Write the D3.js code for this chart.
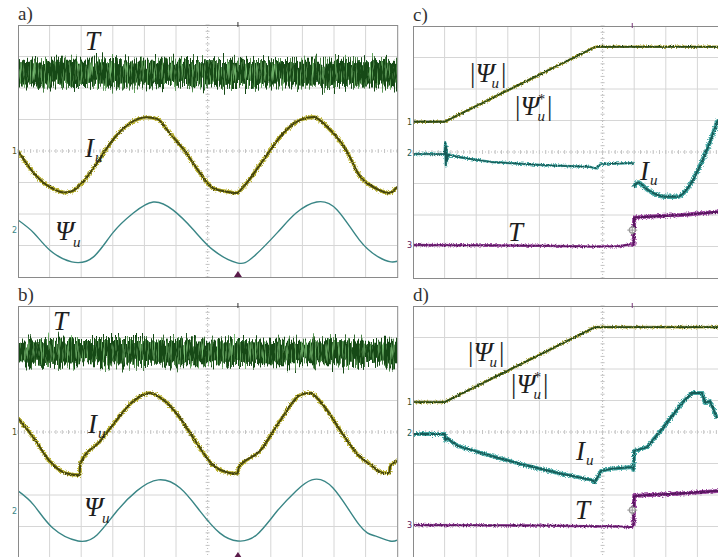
<!DOCTYPE html>
<html>
<head>
<meta charset="utf-8">
<script src="https://cdn.jsdelivr.net/npm/d3@7"></script>
<style>
  html, body { margin: 0; padding: 0; background: #fff; }
  svg { display: block; }
  text { font-family: "Liberation Serif", "DejaVu Serif", serif; }
</style>
</head>
<body>
<svg id="chart" width="718" height="557">
  <defs>
    <filter id="fBand" filterUnits="userSpaceOnUse" x="0" y="0" width="718" height="557">
      <feTurbulence type="fractalNoise" baseFrequency="0.9 0.02" numOctaves="2" seed="4" result="n1"/>
      <feDisplacementMap in="SourceGraphic" in2="n1" scale="26" xChannelSelector="B" yChannelSelector="R" result="disp"/>
      <feTurbulence type="fractalNoise" baseFrequency="0.7 0.05" numOctaves="3" seed="9" result="n2"/>
      <feColorMatrix in="n2" type="matrix" values="0 0 0 0 0.2  0 0 0 0 0.55  0 0 0 0 0.18  3 0 0 0 -1.5" result="light"/>
      <feComposite in="light" in2="disp" operator="in" result="lightIn"/>
      <feMerge><feMergeNode in="disp"/><feMergeNode in="lightIn"/></feMerge>
    </filter>
    <filter id="fRough" filterUnits="userSpaceOnUse" x="0" y="0" width="718" height="557">
      <feTurbulence type="fractalNoise" baseFrequency="0.8 0.8" numOctaves="1" seed="2" result="n"/>
      <feDisplacementMap in="SourceGraphic" in2="n" scale="5" xChannelSelector="R" yChannelSelector="G"/>
    </filter>
    <filter id="fRough2" filterUnits="userSpaceOnUse" x="0" y="0" width="718" height="557">
      <feTurbulence type="fractalNoise" baseFrequency="0.9 0.9" numOctaves="1" seed="5" result="n"/>
      <feDisplacementMap in="SourceGraphic" in2="n" scale="3" xChannelSelector="R" yChannelSelector="G"/>
    </filter>
  </defs>
</svg>
<script>
(function () {
  'use strict';

  // All traces in screen divisions: x 0..12, y -4..4 (0 = centre line)

  // panel a) – steady state
  var aT = [[-0.5, 2.85, 2.05], [0, 2.85, 2.05], [1, 2.9, 2.05], [2, 2.9, 2.03], [3, 2.92, 2.05], [4, 2.9, 2.05],
    [5, 2.9, 2.07], [6, 2.88, 2.05], [7, 2.9, 2.03], [8, 2.88, 2.05], [9, 2.9, 2.05], [10, 2.9, 2.03],
    [11, 2.88, 2.05], [12, 2.9, 2.05], [12.5, 2.9, 2.05]];
  var aIu = [[0, 0], [0.5, -0.7], [1.0, -1.14], [1.5, -1.32], [1.75, -1.26], [2.07, -0.97], [2.6, -0.23],
    [3.0, 0.35], [3.54, 0.88], [4.07, 1.07], [4.4, 1.02], [4.8, 0.57], [5.28, 0], [5.76, -0.7], [6.17, -1.18],
    [6.6, -1.29], [6.93, -1.33], [7.13, -1.14], [7.76, -0.29], [8.4, 0.57], [8.92, 0.98], [9.35, 1.08],
    [9.78, 0.77], [10.4, 0], [10.82, -0.8], [11.35, -1.2], [11.75, -1.33], [12, -1.14]];
  var aPsi = [[0, -2.19], [0.5, -2.6], [1.0, -3.14], [1.7, -3.52], [2.39, -3.36], [3.0, -2.6], [3.65, -1.97],
    [4.28, -1.62], [4.9, -1.87], [5.55, -2.5], [6.17, -3.14], [6.93, -3.55], [7.45, -3.36], [8.2, -2.6],
    [8.8, -1.97], [9.45, -1.62], [10.1, -1.87], [10.8, -2.82], [11.4, -3.36], [11.8, -3.52], [12, -3.5]];

  // panel b)
  var bT = [[-0.5, 2.9, 2.15], [0, 2.9, 2.15], [1, 2.92, 2.13], [2, 2.95, 2.15], [3, 2.95, 2.15], [4, 2.95, 2.13],
    [5, 2.92, 2.15], [6, 2.9, 2.15], [7, 2.92, 2.13], [8, 2.9, 2.15], [9, 2.9, 2.15], [10, 2.92, 2.15],
    [11, 2.9, 2.13], [12, 2.9, 2.15], [12.5, 2.9, 2.15]];
  var bIu = [[0, 0.44], [0.5, -0.19], [1.0, -0.92], [1.49, -1.3], [1.95, -1.37], [1.97, -1.0], [2.6, -0.29],
    [3.0, 0.22], [3.65, 0.98], [4.18, 1.24], [4.6, 1.02], [5.13, 0.44], [5.55, -0.19], [6.17, -1.05],
    [6.7, -1.3], [6.95, -1.32], [6.98, -1.14], [7.66, -0.6], [8.29, 0.35], [8.92, 1.17], [9.24, 1.24],
    [9.65, 0.86], [10.3, -0.1], [10.78, -0.75], [11.17, -1.05], [11.55, -1.3], [11.75, -1.3], [11.78, -1.08],
    [12, -0.92]];
  var bPsi = [[0, -1.87], [0.5, -2.32], [1.1, -3.05], [1.9, -3.46], [2.5, -3.27], [3.13, -2.51], [3.76, -1.87],
    [4.44, -1.52], [5.13, -1.78], [5.76, -2.51], [6.39, -3.21], [6.96, -3.46], [7.55, -3.27], [8.2, -2.51],
    [8.8, -1.87], [9.3, -1.52], [9.97, -1.78], [10.8, -2.95], [11.3, -3.3], [11.77, -3.46], [12, -3.43]];

  // panel c) – flux ramp
  var cPsiMag = [[0, 0.96], [1.0, 0.96], [5.78, 3.34], [9.7, 3.34]];
  var cIuA = [[0, -0.06], [1.0, -0.06], [1.02, 0.3], [1.04, -0.42], [1.06, 0.18], [1.08, -0.28], [1.12, -0.08],
    [1.42, -0.16], [2.47, -0.32], [4.05, -0.41], [5.63, -0.48], [5.79, -0.52], [5.95, -0.38], [6.99, -0.35]];
  var cIuB = [[6.99, -1.1], [7.12, -0.97], [7.44, -1.21], [7.97, -1.42], [8.39, -1.42], [8.7, -1.14],
    [9.02, -0.57], [9.34, 0.17], [9.65, 1.02]];
  var cT = [[0, -2.95], [2, -2.96], [4, -2.98], [5.5, -3.0], [6.5, -2.99], [6.9, -2.93], [6.98, -2.97],
    [7.0, -2.08], [7.5, -2.05], [8.5, -2.0], [9.65, -1.9]];

  // panel d)
  var dPsiMag = [[0, 0.95], [1.0, 0.95], [5.76, 3.33], [9.7, 3.33]];
  var dIu = [[0, -0.06], [1.0, -0.06], [1.02, -0.25], [1.1, -0.2], [1.25, -0.33], [1.42, -0.44], [2.47, -0.76],
    [3.54, -1.05], [4.59, -1.3], [5.63, -1.52], [5.76, -1.59], [5.95, -1.24], [6.27, -1.17], [6.96, -1.11],
    [6.98, -1.2], [7.0, -0.6], [7.41, -0.48], [7.91, 0.13], [8.54, 0.95], [8.83, 1.24], [9.15, 1.24],
    [9.24, 0.92], [9.4, 0.98], [9.62, 0.44]];
  var dT = [[0, -2.95], [2, -2.96], [4, -2.97], [5.5, -2.99], [6.5, -3.0], [6.9, -3.02], [6.98, -2.98],
    [7.0, -2.03], [7.5, -2.0], [8.5, -1.95], [9.65, -1.87]];

  var CW = 31.6, CH = 31.5;
  var svg = d3.select('#chart');

  function makePanel(id, x0, y0, name) {
    var x = d3.scaleLinear().domain([0, 12]).range([x0, x0 + 12 * CW]);
    var y = d3.scaleLinear().domain([-4, 4]).range([y0 + 8 * CH, y0]);
    svg.select('defs').append('clipPath').attr('id', 'clip-' + id)
      .append('rect').attr('x', x0).attr('y', y0).attr('width', 12 * CW).attr('height', 8 * CH);
    var g = svg.append('g');

    // grid
    d3.range(1, 12).forEach(function (i) {
      g.append('line').attr('x1', x(i)).attr('x2', x(i)).attr('y1', y(-4)).attr('y2', y(4))
        .attr('stroke', i === 6 ? '#bdbdbd' : '#d6d6d6').attr('stroke-width', 1)
        .attr('stroke-dasharray', i === 6 ? '1,2' : null);
    });
    d3.range(-3, 4).forEach(function (j) {
      g.append('line').attr('x1', x(0)).attr('x2', x(12)).attr('y1', y(j)).attr('y2', y(j))
        .attr('stroke', j === 0 ? '#bdbdbd' : '#d6d6d6').attr('stroke-width', 1)
        .attr('stroke-dasharray', j === 0 ? '1,2' : null);
    });
    // minor ticks on the centre lines
    d3.range(0, 12.01, 0.2).forEach(function (t) {
      g.append('line').attr('x1', x(t)).attr('x2', x(t)).attr('y1', y(0) - 2).attr('y2', y(0) + 2)
        .attr('stroke', '#c4c4c4');
    });
    d3.range(-4, 4.01, 0.2).forEach(function (t) {
      g.append('line').attr('x1', x(6) - 2).attr('x2', x(6) + 2).attr('y1', y(t)).attr('y2', y(t))
        .attr('stroke', '#c4c4c4');
    });

    var plot = g.append('g').attr('clip-path', 'url(#clip-' + id + ')');

    svg.append('rect').attr('x', x0 + 0.5).attr('y', y0 + 0.5).attr('width', 12 * CW).attr('height', 8 * CH)
      .attr('fill', 'none').attr('stroke', '#8a8a8a').attr('stroke-width', 1);

    svg.append('text').attr('x', x0).attr('y', y0 - 5).style('font-size', '19px').attr('fill', '#333')
      .text(name);

    return { x: x, y: y, plot: plot, g: svg.append('g') };
  }

  function lineOf(p, curve) {
    return d3.line().x(function (d) { return p.x(d[0]); }).y(function (d) { return p.y(d[1]); })
      .curve(curve || d3.curveLinear);
  }

  function drawBand(p, data) {
    var area = d3.area().x(function (d) { return p.x(d[0]); })
      .y0(function (d) { return p.y(d[2]); }).y1(function (d) { return p.y(d[1]); })
      .curve(d3.curveLinear);
    p.plot.append('path').attr('d', area(data)).attr('fill', '#124a16').attr('filter', 'url(#fBand)');
  }

  function drawNoisy(p, data, curve, fringe, core, wF, wC) {
    var ln = lineOf(p, curve);
    p.plot.append('path').attr('d', ln(data)).attr('fill', 'none').attr('stroke', fringe)
      .attr('stroke-width', wF).attr('stroke-linejoin', 'round').attr('filter', 'url(#fRough)');
    p.plot.append('path').attr('d', ln(data)).attr('fill', 'none').attr('stroke', core)
      .attr('stroke-width', wC).attr('stroke-linejoin', 'round').attr('filter', 'url(#fRough2)');
  }

  function drawClean(p, data, curve, color, w) {
    p.plot.append('path').attr('d', lineOf(p, curve)(data)).attr('fill', 'none')
      .attr('stroke', color).attr('stroke-width', w).attr('stroke-linejoin', 'round');
  }

  function label(p, x, y, parts) {
    var t = p.g.append('text').attr('x', x).attr('y', y).attr('fill', '#1e1e1e');
    parts.forEach(function (q) {
      t.append('tspan').attr('dx', q.dx || 0).attr('dy', q.dy || 0)
        .style('font-size', (q.s || 27) + 'px')
        .style('font-style', q.i === false ? 'normal' : 'italic')
        .text(q.t);
    });
  }

  function chMark(p, v, txt, color) {
    p.g.append('text').attr('x', p.x(0) - 6).attr('y', p.y(v) + 3).attr('fill', color)
      .style('font-size', '8px').style('font-family', 'DejaVu Sans').text(txt);
  }

  function trigArrow(p, d) {
    var cx = p.x(d), cy = p.y(-4);
    p.g.append('path').attr('d', 'M' + (cx - 4) + ',' + cy + 'L' + cx + ',' + (cy - 6) + 'L' + (cx + 4) + ',' + cy + 'Z')
      .attr('fill', '#5a1a4a');
    p.g.append('line').attr('x1', cx).attr('x2', cx).attr('y1', p.y(4) - 3).attr('y2', p.y(4) + 2)
      .attr('stroke', '#333');
  }

  function cursor(p, d, v) {
    var cx = p.x(d) - 1, cy = p.y(v);
    p.g.append('circle').attr('cx', cx).attr('cy', cy).attr('r', 3).attr('fill', '#fff')
      .attr('stroke', '#999').attr('stroke-width', 1.2);
    p.g.append('path').attr('d', 'M' + (cx - 5) + ',' + cy + 'H' + (cx + 5) + 'M' + cx + ',' + (cy - 5) + 'V' + (cy + 5))
      .attr('stroke', '#999').attr('stroke-width', 1);
    p.g.append('line').attr('x1', cx).attr('x2', cx).attr('y1', p.y(4) - 3).attr('y2', p.y(4) + 2)
      .attr('stroke', '#7a3a7a');
  }

  var smoothPsi = d3.curveNatural;
  var smoothIu = d3.curveMonotoneX;
  var OLIVE_F = '#bdb534', OLIVE_C = '#45440e';
  var TEAL = '#3a8686';
  var CYAN_F = '#44a8a4', CYAN_C = '#175c59';
  var PURP_F = '#9c4aa0', PURP_C = '#58125e';
  var MAG_F = '#aaa43a', MAG_C = '#2c4a18';

  // ---- a)
  var pa = makePanel('a', 18, 25, 'a)');
  drawBand(pa, aT);
  drawNoisy(pa, aIu, smoothIu, OLIVE_F, OLIVE_C, 3.8, 2);
  drawClean(pa, aPsi, smoothPsi, TEAL, 1.4);
  chMark(pa, 0, '1', '#555520');
  chMark(pa, -2.5, '2', TEAL);
  trigArrow(pa, 6.96);
  label(pa, 85, 50, [{ t: 'T' }]);
  label(pa, 85, 157, [{ t: 'I' }, { t: 'u', s: 15, dy: 5, dx: 1 }]);
  label(pa, 55, 240, [{ t: 'Ψ' }, { t: 'u', s: 15, dy: 7, dx: -1 }]);

  // ---- b)
  var pb = makePanel('b', 18, 306, 'b)');
  drawBand(pb, bT);
  drawNoisy(pb, bIu, smoothIu, OLIVE_F, OLIVE_C, 3.8, 2);
  drawClean(pb, bPsi, smoothPsi, TEAL, 1.4);
  chMark(pb, 0, '1', '#555520');
  chMark(pb, -2.5, '2', TEAL);
  trigArrow(pb, 6.96);
  label(pb, 53, 330, [{ t: 'T' }]);
  label(pb, 88, 433, [{ t: 'I' }, { t: 'u', s: 15, dy: 5, dx: 1 }]);
  label(pb, 84, 516, [{ t: 'Ψ' }, { t: 'u', s: 15, dy: 7, dx: -1 }]);

  // ---- c)
  var pc = makePanel('c', 413, 26, 'c)');
  drawNoisy(pc, cPsiMag, null, MAG_F, MAG_C, 2.6, 1.8);
  drawNoisy(pc, cIuA, null, CYAN_F, CYAN_C, 2.5, 1.5);
  drawNoisy(pc, cIuB, smoothIu, CYAN_F, CYAN_C, 4.5, 2);
  drawNoisy(pc, cT.slice(0, 7), null, PURP_F, PURP_C, 2.5, 1.5);
  drawNoisy(pc, cT.slice(6), null, PURP_F, PURP_C, 4, 2.2);
  chMark(pc, 0.96, '1', '#3a5020');
  chMark(pc, -0.02, '2', CYAN_C);
  chMark(pc, -2.95, '3', PURP_C);
  cursor(pc, 6.97, -2.48);
  label(pc, 470, 82, [{ t: '|', i: false }, { t: 'Ψ' }, { t: 'u', s: 15, dy: 6, dx: -3 }, { t: '|', i: false, dy: -6, dx: 2 }]);
  label(pc, 515, 115, [{ t: '|', i: false }, { t: 'Ψ' }, { t: '*', s: 14, dy: -11, dx: -2 }, { t: 'u', s: 15, dy: 17, dx: -7 }, { t: '|', i: false, dy: -6, dx: 2 }]);
  label(pc, 640, 180, [{ t: 'I' }, { t: 'u', s: 15, dy: 5, dx: 1 }]);
  label(pc, 508, 241, [{ t: 'T' }]);

  // ---- d)
  var pd = makePanel('d', 413, 306, 'd)');
  drawNoisy(pd, dPsiMag, null, MAG_F, MAG_C, 2.6, 1.8);
  drawNoisy(pd, dIu, null, CYAN_F, CYAN_C, 4, 2);
  drawNoisy(pd, dT.slice(0, 7), null, PURP_F, PURP_C, 2.5, 1.5);
  drawNoisy(pd, dT.slice(6), null, PURP_F, PURP_C, 4, 2.2);
  chMark(pd, 0.95, '1', '#3a5020');
  chMark(pd, -0.02, '2', CYAN_C);
  chMark(pd, -2.95, '3', PURP_C);
  cursor(pd, 6.97, -2.48);
  label(pd, 468, 361, [{ t: '|', i: false }, { t: 'Ψ' }, { t: 'u', s: 15, dy: 6, dx: -3 }, { t: '|', i: false, dy: -6, dx: 2 }]);
  label(pd, 511, 393, [{ t: '|', i: false }, { t: 'Ψ' }, { t: '*', s: 14, dy: -11, dx: -2 }, { t: 'u', s: 15, dy: 17, dx: -7 }, { t: '|', i: false, dy: -6, dx: 2 }]);
  label(pd, 576, 460, [{ t: 'I' }, { t: 'u', s: 15, dy: 5, dx: 1 }]);
  label(pd, 575, 519, [{ t: 'T' }]);
})();
</script>
</body>
</html>
